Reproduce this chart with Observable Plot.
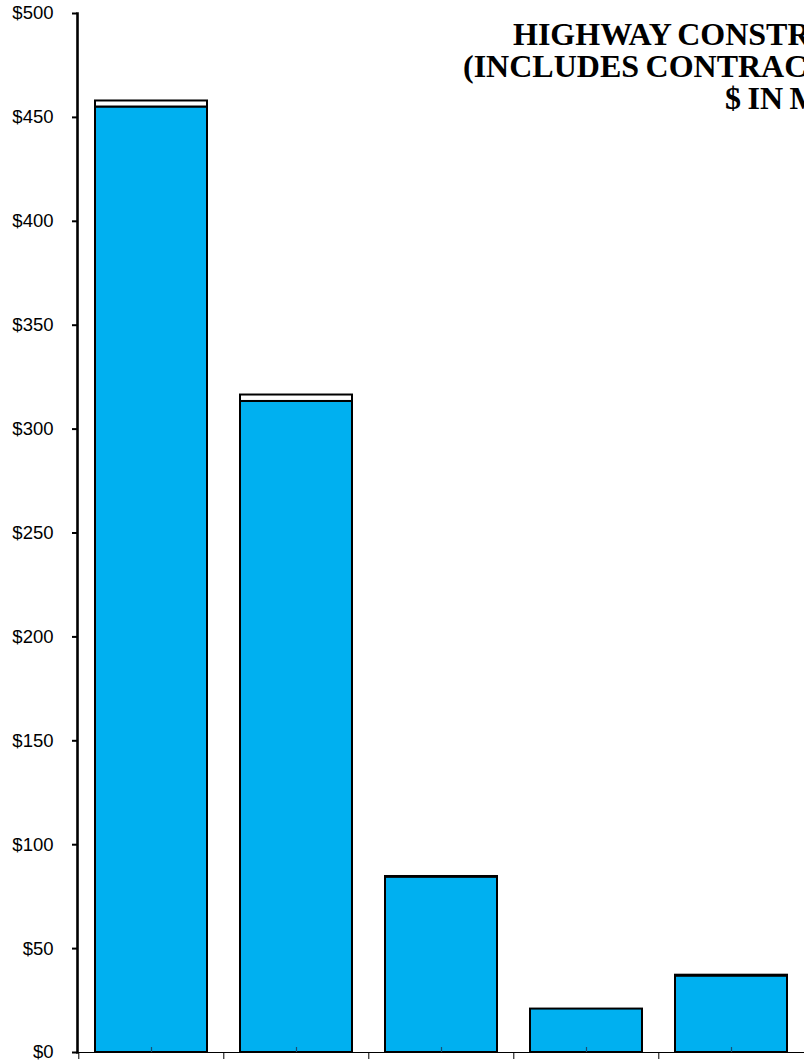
<!DOCTYPE html>
<html>
<head>
<meta charset="utf-8">
<script src="https://cdn.jsdelivr.net/npm/d3@7"></script>
<script src="https://cdn.jsdelivr.net/npm/@observablehq/plot@0.6"></script>
<style>
  html, body { margin: 0; padding: 0; background: #fff; overflow: hidden; }
  #wrap { position: relative; width: 804px; height: 1063px; overflow: hidden; }
  .title { position: absolute; white-space: nowrap; font-family: "Liberation Serif", "Times New Roman", serif;
           font-weight: bold; font-size: 32px; line-height: 32px; word-spacing: -1.5px; color: #000; }
</style>
</head>
<body>
<div id="wrap"></div>
<script>
// Data
const categories = ["Bar 1", "Bar 2", "Bar 3", "Bar 4", "Bar 5"];
const baseValues = [455.0, 313.3, 84.4, 20.9, 36.8];
const topValues  = [2.9, 3.1, 0.3, 0, 0.4];
const parts = ["base", "top"];
const partColors = ["#00B0F0", "#FFFFFF"];
const yTicks = [0, 50, 100, 150, 200, 250, 300, 350, 400, 450, 500];
const titleLines = [
  "HIGHWAY CONSTRUCTION EXPENDITURES",
  "(INCLUDES CONTRACTS AND FORCE ACCOUNT",
  "$ IN MILLIONS)"
];

const data = categories.flatMap((c, i) => [
  {cat: c, part: "base", value: baseValues[i]},
  {cat: c, part: "top", value: topValues[i]}
]).filter(d => d.value > 0);

const W = 804, H = 1063, mL = 77, mR = 0;
const step = (W - mL - mR) / categories.length;

const chart = Plot.plot({
  width: W,
  height: H,
  marginLeft: mL,
  marginRight: mR,
  marginTop: 13,
  marginBottom: 11,
  style: {fontFamily: "Arial, 'Liberation Sans', sans-serif", fontSize: "18.5px", color: "#000", background: "#fff"},
  x: {domain: categories, paddingInner: 0.23, paddingOuter: 0.115, axis: null},
  y: {domain: [0, 500], axis: null},
  color: {domain: parts, range: partColors},
  marks: [
    Plot.barY(data, {x: "cat", y: "value", fill: "part", stroke: "#000", strokeWidth: 2}),
    Plot.ruleY([0], {stroke: "#000", strokeWidth: 1.2}),
    // boundary ticks below the axis
    Plot.axisX({tickSize: 7, dx: -step / 2, tickFormat: () => "", label: null, stroke: "#000", strokeWidth: 1}),
    // small center ticks above the axis
    Plot.axisX({tickSize: 5, dy: -5, tickFormat: () => "", label: null, stroke: "#1b4f72", strokeWidth: 1.2}),
    Plot.frame({anchor: "left", stroke: "#000", strokeWidth: 2.6}),
    Plot.axisY({ticks: yTicks, tickFormat: d => "$" + d, tickSize: 5, tickPadding: 19, strokeWidth: 2, label: null, fill: "#000", fontSize: 18.5})
  ]
});

const wrap = document.getElementById("wrap");
wrap.appendChild(chart);

const titleX = [513, 463, 725];
const titleTop = [17.5, 49.7, 82.2];
titleLines.forEach((t, i) => {
  const d = document.createElement("div");
  d.className = "title";
  d.textContent = t;
  d.style.left = titleX[i] + "px";
  d.style.top = titleTop[i] + "px";
  wrap.appendChild(d);
});
</script>
</body>
</html>
